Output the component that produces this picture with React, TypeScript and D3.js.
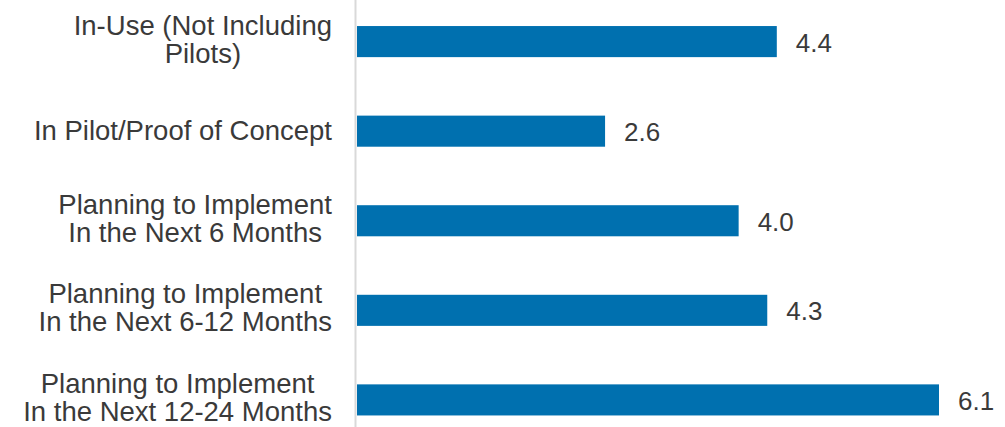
import React, { useEffect, useRef } from "react";
import * as d3 from "d3";

const categories: string[][] = [
  ["In-Use (Not Including", "Pilots)"],
  ["In Pilot/Proof of Concept"],
  ["Planning to Implement", "In the Next 6 Months"],
  ["Planning to Implement", "In the Next 6-12 Months"],
  ["Planning to Implement", "In the Next 12-24 Months"],
];
const values: number[] = [4.4, 2.6, 4.0, 4.3, 6.1];
const valueLabels: string[] = ["4.4", "2.6", "4.0", "4.3", "6.1"];

const W = 1005;
const H = 427;
const FONT = "'Liberation Sans', Arial, sans-serif";
const FS = 27.5;
const VFS = 26;
const LINE = 28;

export default function App() {
  const ref = useRef<SVGSVGElement | null>(null);
  useEffect(() => {
    const svg = d3.select(ref.current);
    svg.selectAll("*").remove();
    const x0 = 357;
    const x = d3.scaleLinear().domain([0, 6.1]).range([x0, 939]);
    const ids = categories.map((_, i) => i);
    const y = d3
      .scaleBand<number>()
      .domain(ids)
      .range([-3.25, 444.75])
      .paddingInner(0.653)
      .paddingOuter(0.327);

    svg
      .append("g")
      .selectAll("rect")
      .data(values)
      .join("rect")
      .attr("x", x(0))
      .attr("y", (_, i) => y(i)!)
      .attr("width", (d) => x(d) - x(0))
      .attr("height", y.bandwidth())
      .attr("fill", "#0070AF");

    svg
      .append("line")
      .attr("x1", 355.5)
      .attr("x2", 355.5)
      .attr("y1", 0)
      .attr("y2", H)
      .attr("stroke", "#d9d9d9")
      .attr("stroke-width", 2);

    svg
      .append("g")
      .selectAll("text")
      .data(values)
      .join("text")
      .attr("x", (d) => x(d) + 19)
      .attr("y", (_, i) => y(i)! + y.bandwidth() / 2 + 10)
      .attr("font-family", FONT)
      .attr("font-size", VFS)
      .attr("fill", "#3a3a3a")
      .text((_, i) => valueLabels[i]);

    const labelRight = 332;
    categories.forEach((lines, i) => {
      const g = svg.append("g");
      const cy = y(i)! + y.bandwidth() / 2;
      const off = lines.length === 1 ? 9 : 7;
      const texts = lines.map((ln, j) =>
        g
          .append("text")
          .attr("font-family", FONT)
          .attr("font-size", FS)
          .attr("fill", "#3a3a3a")
          .attr("text-anchor", "middle")
          .attr("y", cy + (j - (lines.length - 1) / 2) * LINE + off)
          .text(ln)
      );
      const widths = texts.map((t) => (t.node() as SVGTextElement).getComputedTextLength());
      const maxW = Math.max(...widths);
      texts.forEach((t) => t.attr("x", labelRight - maxW / 2));
    });
  }, []);
  return (
    <svg
      ref={ref}
      width={W}
      height={H}
      style={{ position: "absolute", left: 0, top: 0, background: "#fff" }}
    />
  );
}
